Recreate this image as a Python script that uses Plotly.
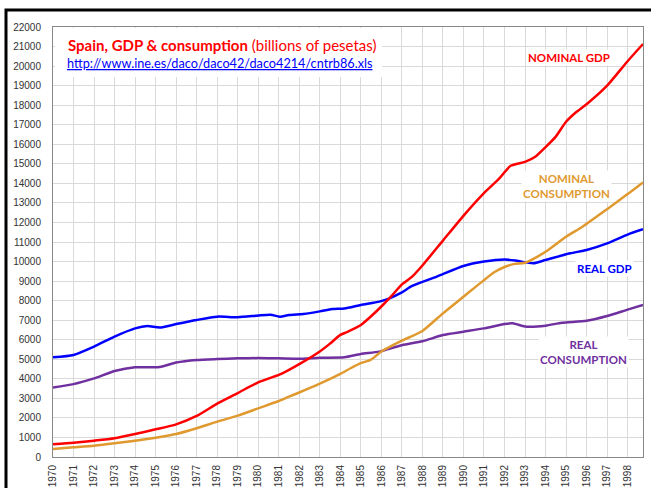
import plotly.graph_objects as go

# ---------------- data ----------------
years = list(range(1970, 1999))
year_labels = [str(y) for y in years]

nom_gdp_x = [1970, 1971, 1972, 1973, 1974, 1975, 1976, 1977, 1978, 1979, 1980, 1981, 1981.5, 1982,
             1983, 1983.5, 1984, 1984.3, 1985, 1985.5, 1986, 1986.5, 1987, 1987.5, 1988, 1989, 1990,
             1991, 1991.75, 1992.3, 1993, 1993.5, 1994, 1994.5, 1995, 1995.5, 1996, 1997, 1998, 1998.75]
nom_gdp_y = [650, 730, 835, 960, 1175, 1415, 1670, 2100, 2730, 3270, 3820, 4200, 4460, 4750,
             5400, 5800, 6250, 6380, 6750, 7200, 7700, 8240, 8830, 9230, 9800, 11070, 12340,
             13500, 14250, 14900, 15100, 15360, 15850, 16390, 17150, 17650, 18050, 19000, 20250, 21130]

nom_cons_x = [1970, 1971, 1972, 1973, 1974, 1975, 1976, 1977, 1978, 1979, 1980, 1981, 1981.5, 1982,
              1983, 1984, 1984.5, 1985, 1985.5, 1986, 1987, 1988, 1989, 1990, 1991, 1991.5, 1992,
              1992.5, 1993, 1994, 1995, 1995.8, 1997, 1998, 1998.75]
nom_cons_y = [410, 495, 580, 700, 835, 990, 1175, 1470, 1810, 2115, 2490, 2865, 3090, 3300,
              3750, 4250, 4540, 4800, 4980, 5400, 5950, 6450, 7350, 8200, 9050, 9450, 9720,
              9880, 9940, 10500, 11270, 11780, 12680, 13450, 14050]

real_gdp_x = [1970, 1971, 1972, 1973, 1974, 1974.6, 1975.2, 1976, 1977, 1978, 1979, 1980, 1980.6,
              1981.05, 1981.5, 1982.2, 1983, 1983.6, 1984.2, 1985, 1985.9, 1986.4, 1987, 1987.5,
              1988.7, 1990, 1991, 1992, 1992.6, 1993.4, 1994, 1995.2, 1996, 1997, 1998, 1998.75]
real_gdp_y = [5100, 5220, 5650, 6160, 6580, 6700, 6620, 6800, 7010, 7180, 7150, 7240, 7280,
              7180, 7270, 7320, 7450, 7570, 7600, 7780, 7950, 8120, 8420, 8750,
              9230, 9770, 10000, 10110, 10040, 9910, 10080, 10420, 10590, 10930, 11380, 11650]

real_cons_x = [1970, 1971, 1972, 1973, 1974, 1975.2, 1976, 1977, 1978, 1979, 1980, 1981, 1982,
               1983, 1984.2, 1985, 1985.9, 1987, 1988, 1989, 1990, 1991, 1992, 1992.4, 1993,
               1994, 1994.8, 1996, 1997, 1998, 1998.75]
real_cons_y = [3560, 3730, 4020, 4400, 4590, 4600, 4830, 4960, 5010, 5050, 5060, 5050, 5030,
               5080, 5100, 5270, 5390, 5720, 5920, 6240, 6410, 6580, 6800, 6840, 6680,
               6720, 6870, 6970, 7210, 7540, 7780]

RED = "#ff0000"
ORANGE = "#e0992e"
BLUE = "#0000ff"
PURPLE = "#7030a0"

fig = go.Figure()
for xs, ys, col, name in [
    (real_cons_x, real_cons_y, PURPLE, "Real consumption"),
    (real_gdp_x, real_gdp_y, BLUE, "Real GDP"),
    (nom_cons_x, nom_cons_y, ORANGE, "Nominal consumption"),
    (nom_gdp_x, nom_gdp_y, RED, "Nominal GDP"),
]:
    fig.add_trace(go.Scatter(x=xs, y=ys, mode="lines", name=name,
                             line=dict(color=col, width=2.5, shape="spline", smoothing=0.6),
                             hoverinfo="x+y"))

W, H = 651, 488
L, R, T, B = 53, 8, 27, 31
pw, ph = W - L - R, H - T - B


def px(x):
    return (x - L) / pw


def py(y):
    return (H - B - y) / ph


fig.update_layout(
    width=W, height=H,
    margin=dict(l=L, r=R, t=T, b=B, autoexpand=False),
    paper_bgcolor="white", plot_bgcolor="white",
    showlegend=False,
    font=dict(family="Liberation Sans, Arial, sans-serif", size=10, color="#333333"),
)

fig.update_xaxes(
    range=[1970, 1998.75], tickmode="array", tickvals=years, ticktext=year_labels,
    tickangle=-90, showgrid=True, gridcolor="#d9d9d9", gridwidth=1,
    showline=True, linecolor="#888888", linewidth=1, mirror=True,
    ticks="", ticklabelstandoff=3, automargin=False, zeroline=False,
    tickfont=dict(size=10, color="#333333"),
)
fig.update_yaxes(
    range=[0, 22000], dtick=1000, tick0=0, tickformat="d",
    showgrid=True, gridcolor="#d9d9d9", gridwidth=1,
    showline=True, linecolor="#888888", linewidth=1, mirror=True,
    ticks="", ticklabelstandoff=9, automargin=False, zeroline=False,
    tickfont=dict(size=10, color="#333333"),
)

# outer black frame
fig.add_shape(type="rect", xref="paper", yref="paper",
              x0=px(6), x1=px(700), y0=py(540), y1=py(10),
              line=dict(color="black", width=3), fillcolor="rgba(0,0,0,0)", layer="above")

# white box behind title
fig.add_shape(type="rect", xref="paper", yref="paper",
              x0=px(55), x1=px(382), y0=py(77), y1=py(28),
              line=dict(width=0), fillcolor="white", layer="above")

TF = "Lato, Carlito, 'Open Sans', sans-serif"
fig.add_annotation(xref="paper", yref="paper", x=px(66), y=py(45), xanchor="left", yanchor="middle",
                   text="<b>Spain, GDP &amp; consumption</b> (billions of pesetas)",
                   showarrow=False, font=dict(family=TF, size=15, color=RED))
fig.add_annotation(xref="paper", yref="paper", x=px(65), y=py(63), xanchor="left", yanchor="middle",
                   text="<span style='text-decoration:underline'>http://www.ine.es/daco/daco42/daco4214/cntrb86.xls</span>",
                   showarrow=False, font=dict(family=TF, size=12.7, color=BLUE))


def label(text, x, y, col):
    fig.add_annotation(xref="paper", yref="paper", x=px(x), y=py(y), xanchor="center", yanchor="middle",
                       text="<b>" + text + "</b>", showarrow=False, align="center",
                       bgcolor="white", borderpad=1,
                       font=dict(family=TF, size=11.5, color=col))


label("NOMINAL GDP", 569, 57, RED)
label("NOMINAL<br>CONSUMPTION", 566, 186, ORANGE)
label("REAL GDP", 604, 268, BLUE)
label("REAL<br>CONSUMPTION", 583, 352, PURPLE)

fig.write_html(
    "out.html",
    config={"displayModeBar": False},
    post_script="document.body.style.margin='0px';document.body.style.overflow='hidden';",
)
